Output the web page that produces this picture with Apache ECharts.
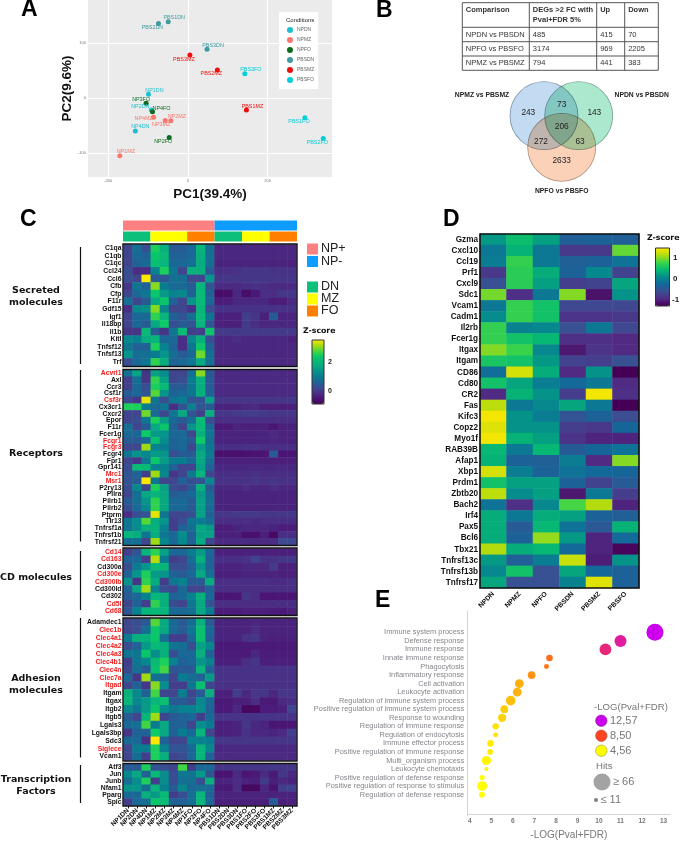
<!DOCTYPE html>
<html>
<head>
<meta charset="utf-8">
<title>Figure</title>
<style>
  html, body { margin: 0; padding: 0; background: #fff; }
  #chart { width: 680px; height: 841px; }
</style>
<script src="https://cdn.jsdelivr.net/npm/echarts@6/dist/echarts.min.js"></script>
</head>
<body>
<div id="chart"></div>
<script>
// panel A: PCA [PC1, PC2, sample]
const npdnPoints = [[-99, 6.6, 'NP1DN'], [-92, -21.7, 'NP2DN'], [-132, -60, 'NP4DN']];
const npmzPoints = [[-171, -105, 'NP1MZ'], [-43, -41.5, 'NP2MZ'], [-57, -41, 'NP3MZ'], [-86, -35, 'NP4MZ']];
const npfoPoints = [[-105, -9.6, 'NP3FO'], [-89, -25, 'NP4FO'], [-47, -72, 'NP2FO']];
const pbsdnPoints = [[-49.5, 138.6, 'PBS1DN'], [-74, 135.5, 'PBS2DN'], [48, 88.6, 'PBS3DN']];
const pbsmzPoints = [[5, 78, 'PBS3MZ'], [74, 51, 'PBS2MZ'], [147, -22, 'PBS1MZ']];
const pbsfoPoints = [[143, 44, 'PBS3FO'], [294, -36, 'PBS1FO'], [340, -73.5, 'PBS2FO']];
const conditions = ['NPDN', 'NPMZ', 'NPFO', 'PBSDN', 'PBSMZ', 'PBSFO'];

// panel B
const tableHeader = ['Comparison', 'DEGs >2 FC with\nPval+FDR 5%', 'Up', 'Down'];
const tableRows = [
  ['NPDN vs PBSDN', '485', '415', '70'],
  ['NPFO vs PBSFO', '3174', '969', '2205'],
  ['NPMZ vs PBSMZ', '794', '441', '383'],
];
const vennCounts = ['243', '73', '143', '206', '272', '63', '2633'];
const vennNames = ['NPMZ vs PBSMZ', 'NPDN vs PBSDN', 'NPFO vs PBSFO'];

// panel C
const samples = ['NP1DN', 'NP2DN', 'NP4DN', 'NP1MZ', 'NP2MZ', 'NP3MZ', 'NP4MZ', 'NP1FO', 'NP2FO', 'NP4FO',
  'PBS1DN', 'PBS2DN', 'PBS3DN', 'PBS1FO', 'PBS2FO', 'PBS3FO', 'PBS1MZ', 'PBS2MZ', 'PBS3MZ'];
const groupSpans = [10, 9];
const subsetSpans = [3, 4, 3, 3, 3, 3];
const redGenes = ['Acvrl1', 'Csf3r', 'Fcgr1', 'Fcgr3', 'Mrc1', 'Msr1', 'Cd14', 'Cd163', 'Cd300e', 'Cd300lb', 'Cd5l', 'Cd68',
  'Clec1b', 'Clec4a1', 'Clec4a2', 'Clec4a3', 'Clec4b1', 'Clec4n', 'Clec7a', 'Itgad', 'Siglece'];

const secretedGenes = ['C1qa', 'C1qb', 'C1qc', 'Ccl24', 'Ccl6', 'Cfb', 'Cfp', 'F11r', 'Gdf15', 'Igf1', 'Il18bp', 'Il1b', 'Kitl', 'Tnfsf12', 'Tnfsf13', 'Trf'];
const secretedZ = [
  [.2, .8, .3, 2.5, 1.9, .5, .5, .7, 2, .8, -.2, -.2, -.2, -.2, -.2, -.2, -.2, -.2, -.2],
  [.2, .7, .6, 2.3, 2.1, .6, .6, .7, 1.9, .8, -.2, -.2, -.2, -.2, -.2, -.2, -.2, -.2, -.2],
  [.2, .6, .7, 2.2, 2, .7, .7, .8, 1.8, .8, -.25, -.25, -.25, -.25, -.25, -.25, -.25, -.25, -.3],
  [.3, -.1, -.1, 1.1, 2.5, .9, .2, 1.9, 1.9, .5, -.1, -.1, -.05, 0, 0, 0, -.05, -.05, -.05],
  [.3, .2, 3.5, .5, .4, .8, .8, .2, .2, 1.4, 0, 0, 0, 0, 0, 0, 0, 0, 0],
  [0, .9, .6, 3, 1, .7, .7, .5, 2, .4, -.15, -.15, -.15, -.1, -.05, -.1, -.15, -.15, -.15],
  [.2, .7, .9, 2.3, 1.5, 1.1, 1.2, .6, 2.1, .6, -.6, -.6, -.2, -.6, -.4, -.1, -.1, 0, 0],
  [.8, .2, .5, 1.7, 2.3, .6, .2, 1.4, 2.1, .7, -.35, -.35, -.2, -.2, -.2, -.2, -.35, -.35, -.15],
  [-.1, 1.2, 1.3, 3, 1.2, .2, .2, -.05, 2, .3, -.05, -.05, -.05, -.05, -.05, -.05, -.05, -.05, -.05],
  [.2, .7, .7, 2.6, 2, .6, .4, .8, 2.1, .9, -.3, -.3, -.3, .1, 0, -.3, .5, -.25, -.25],
  [.2, .7, .5, 1.7, 2.4, .3, .5, .4, 2, .4, -.3, -.3, -.3, .05, -.1, -.2, -.2, -.2, -.2],
  [0, 0, 2.1, .5, 0, .9, 2.1, .1, .1, 2.3, .05, .05, .05, .05, .05, .05, .05, .05, .05],
  [1.2, 1.1, 1.8, 2, .7, .7, -.1, 1.2, 1.9, .3, -.2, -.2, -.1, -.2, -.2, -.2, -.2, -.2, -.25],
  [.9, .6, .6, 2.5, 1.1, .6, -.1, .9, 2.3, .6, -.2, -.2, -.2, -.2, -.2, -.2, -.2, -.2, -.2],
  [1.4, .8, .8, 1, 1.4, .8, .5, .7, 2.9, .8, -.2, -.2, -.2, -.2, -.2, -.2, -.2, -.2, -.2],
  [.3, .7, .9, 2.6, 1.8, .6, .7, .9, 1.7, .8, -.2, -.2, -.2, -.2, -.2, -.2, -.2, -.2, -.2],
];

const receptorGenes = ['Acvrl1', 'Axl', 'Ccr3', 'Csf1r', 'Csf3r', 'Cx3cr1', 'Cxcr2', 'Epor', 'F11r', 'Fcer1g', 'Fcgr1', 'Fcgr3', 'Fcgr4', 'Fpr1', 'Gpr141', 'Mrc1', 'Msr1', 'P2ry13', 'Pilra', 'Pilrb1', 'Pilrb2', 'Ptprm', 'Tlr13', 'Tnfrsf1a', 'Tnfrsf1b', 'Tnfrsf21'];
const receptorZ = [
  [.8, 1.6, 0, 1.6, 1.3, .2, .2, .8, 3, .5, -.15, -.15, -.15, -.15, -.15, -.15, -.15, -.15, -.15],
  [.1, .8, 0, 2.6, 1.6, .2, .3, 1, 1.9, .5, -.15, -.15, -.15, -.15, -.15, -.15, -.15, -.15, -.15],
  [.1, .7, .3, 2.5, 2.1, .5, .5, .9, 1.8, .5, -.15, -.15, -.15, -.15, -.15, -.15, -.15, -.15, -.15],
  [.5, .7, .4, 2.8, 1.4, .6, .7, .9, 1.9, .6, -.15, -.15, -.15, -.15, -.15, -.15, -.15, -.15, -.15],
  [.2, 0, 3.4, .9, .3, .9, 1, .4, .4, 1.6, 0, 0, 0, 0, 0, 0, 0, 0, 0],
  [2.5, 2.5, 1, .7, .9, -.1, .4, 1.1, .4, .5, -.25, -.25, -.25, -.2, -.15, -.3, -.3, -.3, -.3],
  [.2, .2, 2.9, .7, .2, .9, 1.7, .4, .1, 1.9, 0, 0, .05, .1, .1, .05, 0, 0, 0],
  [.2, .3, .9, 2.5, 1.5, .7, .5, .8, 2.1, .3, -.1, -.1, -.1, -.1, -.1, -.1, -.1, -.1, -.1],
  [.8, .2, .5, 1.7, 2.3, .6, .2, 1.4, 2.1, .7, -.4, -.4, -.25, -.3, -.3, -.3, -.45, -.3, -.3],
  [.7, .7, 2.4, 1.5, 1.4, .7, .7, .2, 1.9, .9, -.25, -.25, -.25, -.25, -.25, -.25, -.15, -.25, -.25],
  [.5, .5, .7, 2.2, 1.3, .6, .7, .5, 2.4, .8, -.25, -.25, -.25, -.25, -.25, -.25, -.2, -.25, -.25],
  [.2, .2, 3.1, 1.1, 1, .6, .7, .2, 1.5, .9, -.1, -.1, -.1, -.05, -.05, -.1, -.1, -.1, -.1],
  [.9, 1.4, 1.2, 1.5, 1.4, .3, .5, .5, 1.7, 1, -.55, -.55, -.55, -.55, -.5, -.45, .5, -.45, -.45],
  [.2, 0, .9, 2.3, 1.5, 1, 1, .7, 1.7, .8, -.3, -.3, -.3, -.3, -.3, -.3, -.3, -.3, -.3],
  [.3, 2.1, 2.1, 1.1, 1.1, .6, .2, .2, 1.6, .6, -.2, -.2, -.2, -.2, -.2, -.2, -.2, -.2, -.2],
  [.4, .6, .1, 3.1, 1.2, 0, .2, 1, 2, .2, -.1, -.1, -.1, -.1, -.05, -.1, -.1, -.1, -.1],
  [.4, .5, 3.5, .9, .2, .2, .6, .3, .4, 1.2, -.05, -.05, -.05, -.05, 0, -.05, 0, -.05, -.05],
  [.3, 1.2, .2, 2.5, 1.6, .3, .2, .5, 1.9, .5, -.2, -.2, -.2, -.1, -.2, -.2, -.1, -.2, -.2],
  [.2, .8, 1.7, 2, 1.7, .5, .6, .7, 1.5, .7, -.25, -.25, -.25, -.25, -.25, -.25, -.25, -.25, -.25],
  [.5, .8, 1.4, 2.6, 1.7, .7, .7, .5, 1.6, .8, -.25, -.25, -.25, -.25, -.25, -.25, -.25, -.25, -.25],
  [.3, .7, 1.2, 2.6, 1.7, .7, .7, .5, 1.6, .7, -.25, -.25, -.25, -.25, -.25, -.25, -.25, -.25, -.25],
  [-.1, .3, .4, 3.4, .9, .2, .2, .3, 1.6, .6, 0, 0, .05, .05, .05, 0, 0, 0, 0],
  [.9, 1.3, 2.8, 1.8, 1.4, .1, .3, .9, 1, .8, -.1, -.1, -.1, -.1, -.15, -.1, -.1, -.1, -.1],
  [.9, 1.3, 1.9, 1.9, 1.1, .1, .6, .8, 1.7, 1.5, -.35, -.35, -.25, -.2, -.2, -.2, -.25, -.35, -.35],
  [2, 1.8, .9, 1.8, .9, .7, 1.3, .6, 1.6, 1.6, -.3, -.3, -.3, -.55, -.55, -.3, -.65, -.1, -.1],
  [.8, .8, .2, 3.1, 1.2, .7, 1.2, .6, 1.8, .2, -.15, -.15, -.15, -.15, -.15, -.15, -.1, .25, .25],
];

const cdGenes = ['Cd14', 'Cd163', 'Cd300a', 'Cd300e', 'Cd300lb', 'Cd300ld', 'Cd302', 'Cd5l', 'Cd68'];
const cdZ = [
  [.1, .4, 2, 2.6, 1.6, .7, .7, 1, 1.5, .7, -.3, -.3, -.3, -.3, -.3, -.3, -.3, -.3, -.3],
  [.6, .7, .1, 3.2, 1, .1, .2, .8, 1.9, .6, -.1, -.1, -.1, -.05, .15, -.05, -.05, 0, 0],
  [.3, 1, 1.4, 2.1, 2, .3, .3, .6, 1.4, .6, -.25, -.25, -.25, -.2, -.2, -.2, .05, -.3, -.3],
  [.6, 1.4, 2.5, 1.5, 1.4, .6, .5, .7, 1.7, .8, -.3, -.3, -.3, -.25, -.25, -.25, -.25, -.3, -.3],
  [1.4, 0, 2.6, 1.8, .1, .9, 1.1, .5, .5, 1.8, -.1, -.1, -.1, -.1, -.1, -.1, -.15, -.15, -.1],
  [.6, 1.7, 3.1, 1.1, .3, .2, .7, .2, .2, .6, -.1, -.1, -.1, -.1, -.1, -.1, -.1, -.1, -.1],
  [.5, .7, 1.1, 2, 1.9, .6, .7, 1.1, 1.9, .7, -.45, -.45, -.45, 0, -.1, -.45, -.45, -.45, -.45],
  [.2, .6, .1, 2.6, 1.9, .3, .2, .9, 1.7, .4, -.1, -.1, -.1, -.1, -.1, -.1, -.1, -.1, -.1],
  [.4, 1.1, 2, 2.1, 2, .7, .7, .8, 1.7, 1, -.35, -.35, -.35, -.3, -.3, -.3, -.35, -.4, -.3],
];

const adhesionGenes = ['Adamdec1', 'Clec1b', 'Clec4a1', 'Clec4a2', 'Clec4a3', 'Clec4b1', 'Clec4n', 'Clec7a', 'Itgad', 'Itgam', 'Itgax', 'Itgb2', 'Itgb5', 'Lgals3', 'Lgals3bp', 'Sdc3', 'Siglece', 'Vcam1'];
const adhesionZ = [
  [.2, .3, .5, 2.8, 1.7, .7, .5, .8, 1.9, .5, -.25, -.25, -.25, -.25, -.2, -.25, -.25, -.25, -.25],
  [.2, .3, .8, 2.3, 1.7, .7, .5, .9, 2.2, .7, -.25, -.25, -.25, -.25, -.1, -.25, -.25, -.25, -.25],
  [1, 1.9, 1.9, 2.3, .8, .1, .1, .7, 2.2, .6, -.25, -.25, -.25, -.05, 0, -.25, -.3, -.3, -.3],
  [.3, .6, 1.5, 2.1, 1.9, .9, .8, .3, 1.6, 1.2, -.4, -.4, -.4, -.4, -.4, -.4, -.4, -.4, -.4],
  [.9, .9, 2.3, 1.3, 1.9, .3, .7, .7, 1.9, .6, -.35, -.35, -.35, -.4, -.2, -.35, -.35, -.35, -.35],
  [.1, .9, 1.2, 2.1, 2.5, 1.1, .6, .7, 1.4, 1.1, -.3, -.3, -.3, -.1, 0, -.3, -.3, -.3, -.3],
  [.2, .8, .5, 2.2, 2.7, .4, .5, .5, 2, .6, -.05, -.05, -.05, -.05, -.05, -.05, -.05, -.05, -.05],
  [.7, 0, 3.1, .8, .7, .2, 1, .8, .6, 1.5, -.05, -.05, -.05, -.05, -.05, -.05, -.05, -.05, -.05],
  [.2, .6, 0, 3, 1.3, .1, .1, .9, 2.2, .2, -.05, -.05, -.05, -.05, -.05, -.05, -.05, -.05, -.05],
  [1.9, 1.2, .6, 2.7, .2, .2, 1, .2, .5, 1.9, -.3, -.3, .1, -.2, 0, 0, -.2, 0, 0],
  [2, 1.2, 1.5, 2, 2.2, .5, .5, .3, 1.2, .7, -.4, -.4, -.3, -.3, -.1, -.4, -.4, -.15, -.1],
  [1.2, .9, 1.5, 2.3, 1.3, .9, 1.1, 1.1, 1.3, .6, -.4, -.4, -.2, -.7, -.7, -.35, -.35, -.3, .2],
  [.5, .2, 2, 3.1, .2, .5, .6, .7, .1, .7, -.02, -.02, -.02, -.02, -.02, -.02, -.02, -.02, -.02],
  [.7, .8, 2.7, 1, 1.7, .6, .6, .2, 1.3, 1, -.3, -.3, -.25, 0, -.2, -.25, -.45, -.45, -.45],
  [0, .6, .6, 2.4, 1.7, .6, 1, .7, 2, .2, -.3, -.3, -.25, -.05, -.2, -.2, -.25, -.15, .1],
  [.7, .7, -.05, 3.5, .6, .2, .2, 1.1, 1.1, 1, 0, 0, 0, 0, 0, 0, 0, 0, 0],
  [.2, 1, 1, 2.5, 1.1, .4, .4, .7, 2, 1.2, -.2, -.2, -.2, -.2, -.2, -.2, -.2, -.2, -.2],
  [.2, .8, .1, 2.5, 1.9, .2, .3, .7, 2, .6, -.15, -.15, -.15, -.15, -.15, -.15, -.15, -.15, -.15],
];

const tfGenes = ['Atf3', 'Jun', 'Junb', 'Nfam1', 'Pparg', 'Spic'];
const tfZ = [
  [.5, .5, 2.5, .4, .3, .2, 2.7, .1, .7, .7, 0, 0, 0, 0, 0, 0, .05, 0, 0],
  [1.2, 1.7, .6, 2.1, 1.3, .3, .9, .9, 1.5, .4, -.5, -.5, -.15, -.45, -.4, -.15, -.4, 0, -.2],
  [.8, 1.3, 2.5, .1, 1.3, .3, .8, .8, .3, 1.9, -.25, -.25, -.1, -.25, -.3, .05, -.3, -.2, -.25],
  [1.4, 1.4, .8, 2, 1.1, .5, 1.2, .7, .8, .7, -.4, -.4, -.1, -.7, -.7, -.2, -.5, .1, .15],
  [.7, .7, 1.9, 1.5, 2.1, .1, .3, .8, 2, .6, -.25, -.25, -.25, -.25, -.25, -.25, -.25, -.25, -.25],
  [.1, .7, .8, 2.3, 2.1, .6, .6, .8, 2, .7, -.3, -.3, -.3, -.3, -.3, -.3, .55, -.3, -.3],
];

// panel D
const dConditions = ['NPDN', 'NPMZ', 'NPFO', 'PBSDN', 'PBSMZ', 'PBSFO'];
const dGenes = ['Gzma', 'Cxcl10', 'Ccl19', 'Prf1', 'Cxcl9', 'Sdc1', 'Vcam1', 'Cadm1', 'Il2rb', 'Fcer1g', 'Itgax', 'Itgam', 'CD86', 'Cd80', 'CR2', 'Fas', 'Kifc3', 'Copz2', 'Myo1f', 'RAB39B', 'Afap1', 'Xbp1', 'Prdm1', 'Zbtb20', 'Bach2', 'Irf4', 'Pax5', 'Bcl6', 'Tbx21', 'Tnfrsf13c', 'Tnfrsf13b', 'Tnfrsf17'];
const dZ = [
  [.2, .5, .25, -.4, -.35, -.4],
  [-.1, .4, -.1, -.85, -.85, .95],
  [-.05, .75, -.1, -.4, -.35, -.15],
  [-.85, .7, .35, -.35, .05, -.75],
  [-.6, .7, .25, -.8, -.75, .3],
  [1, -.95, -.1, 1.05, -1.2, .15],
  [-.1, .75, .55, -.7, -.7, -.7],
  [.1, .75, .55, -.9, -.9, -.85],
  [.75, 0, .05, -.6, -.1, -.7],
  [.75, .55, .45, -.95, -.95, -1],
  [1.05, .8, .05, -1.15, -.9, -1],
  [.6, .55, .2, -.75, -.8, -.6],
  [-.2, 1.35, .35, -1, .15, -1.4],
  [.55, .3, -.05, -.25, -.1, -1],
  [-1, .4, .15, -.8, 1.5, -.95],
  [1.25, -.1, .05, .3, -.1, -1.4],
  [1.5, .15, -.05, -.55, -.35, -.65],
  [1.4, .15, .15, -.8, -.85, -.3],
  [1.5, .4, .25, -.9, -1.05, -1.05],
  [.45, -.1, .45, -.45, -.3, -.15],
  [.4, -.35, -.4, -.05, -1, 1.05],
  [1.35, -.05, -.35, -.15, -.25, -.3],
  [.55, .25, .25, -.35, -.75, -.45],
  [1.25, .1, .25, -1.15, -.1, -.8],
  [-.15, -.95, .05, .85, 1.2, -1.05],
  [.35, -.1, .35, .25, -.35, -.4],
  [.35, -.45, .45, -.15, -.5, .4],
  [.35, -.35, 1.1, .2, -1.05, -.25],
  [1.2, .35, .45, -.25, -1.05, -1.3],
  [.2, -.4, -.05, 1.3, -1.1, .15],
  [.05, .55, -.6, .3, -.25, -.35],
  [.3, -.6, -.6, 0, 1.4, -.35],
];

// panel E
const goTerms = ['Immune system process', 'Defense response', 'Immune response', 'Innate immune response', 'Phagocytosis', 'Inflammatory response', 'Cell activation', 'Leukocyte activation', 'Regulation of immune system process', 'Positive regulation of immune system process', 'Response to wounding', 'Regulation of immune response', 'Regulation of endocytosis', 'Immune effector process', 'Positive regulation of immune response', 'Multi_organism process', 'Leukocyte chemotaxis', 'Positive regulation of defense response', 'Positive regulation of response to stimulus', 'Regulation of defense response'];
const goLogP = [12.6, 11, 10.3, 7.7, 7.56, 6.87, 6.3, 6.2, 5.9, 5.6, 5.5, 5.2, 5.2, 4.96, 4.94, 4.77, 4.77, 4.57, 4.57, 4.56];
const goHits = [66, 45, 44, 22, 15, 27, 31, 31, 35, 27, 29, 21, 15, 22, 18, 33, 11, 16, 36, 19];

const sans = 'Liberation Sans';
const conditionColors = ['#1cbfd0', '#f8766d', '#0b6b1e', '#3f9aa0', '#f20d0d', '#00ced8'];
const zColorsC = ['#440154', '#4b1474', '#4a2d85', '#3d4a90', '#1f6296', '#0a7b90', '#078f8c', '#07a882', '#08b878', '#0ccb64', '#50d63c', '#a8dc10', '#fde800'];
const zColorsD = ['#450055', '#512c86', '#3a4f92', '#12689a', '#058c8c', '#06ba72', '#3dd548', '#b0dc10', '#fde800'];
// label offsets from each point in panel A, px
const labelNudge = {
  PBS1DN: [6, -4], PBS2DN: [-6, 4], PBS3DN: [6, -4], PBS3MZ: [-6, 4], PBS2MZ: [-6, 4], PBS3FO: [6, -4],
  NP1DN: [6, -4], NP3FO: [-5, -4], NP2DN: [-11, -3], NP4FO: [9, -3], NP4MZ: [-10, 1], NP3MZ: [-4, 4],
  NP2MZ: [6, -4], PBS1MZ: [6, -4], PBS1FO: [-6, 4], PBS2FO: [-6, 4], NP4DN: [5, -4], NP2FO: [-6, 4], NP1MZ: [6, -4],
};

const grids = [];
const xAxes = [];
const yAxes = [];
const series = [];
const graphics = [];

function addGrid(box, xAxis, yAxis) {
  const gridIndex = grids.length;
  grids.push(Object.assign({ containLabel: false }, box));
  xAxes.push(Object.assign({ gridIndex }, xAxis));
  yAxes.push(Object.assign({ gridIndex }, yAxis));
  return gridIndex;
}

function txt(x, y, text, size, opts) {
  graphics.push({
    type: 'text', x, y, z: 100,
    rotation: (opts && opts.rotation) || 0,
    style: {
      text, fontSize: size, fontFamily: (opts && opts.family) || sans,
      fontWeight: (opts && opts.weight) || 'normal',
      fill: (opts && opts.color) || '#111',
      align: (opts && opts.align) || 'left', verticalAlign: 'middle',
      lineHeight: (opts && opts.lineHeight) || undefined,
    },
  });
}

function box(x, y, w, h, fill, stroke, lineWidth) {
  graphics.push({
    type: 'rect', z: 90, shape: { x, y, width: w, height: h },
    style: { fill: fill || 'none', stroke: stroke || 'none', lineWidth: lineWidth || 0 },
  });
}

function vline(x, y1, y2, color, width) {
  graphics.push({
    type: 'line', z: 90, shape: { x1: x, y1, x2: x, y2 },
    style: { stroke: color || '#111', lineWidth: width || 1 },
  });
}

function hline(x1, x2, y, color, width) {
  graphics.push({
    type: 'line', z: 90, shape: { x1, y1: y, x2, y2: y },
    style: { stroke: color || '#111', lineWidth: width || 1 },
  });
}

// ---- A
const pcaGrid = addGrid(
  { left: 88, top: 0, width: 244, height: 177, show: true, backgroundColor: '#ebebeb', borderWidth: 0 },
  {
    type: 'value', min: -251, max: 362, name: 'PC1(39.4%)', nameLocation: 'middle', nameGap: 10,
    nameTextStyle: { fontFamily: sans, fontWeight: 'bold', fontSize: 13.5, color: '#111' },
    axisLine: { show: false },
    axisTick: { show: false, customValues: [-200, 0, 200] },
    axisLabel: { customValues: [-200, 0, 200], fontSize: 4, color: '#777', margin: 2, fontFamily: sans },
    splitLine: { show: true, lineStyle: { color: '#fff', width: 1 } },
  },
  {
    type: 'value', min: -143.6, max: 178, name: 'PC2(9.6%)', nameLocation: 'middle', nameGap: 13,
    nameTextStyle: { fontFamily: sans, fontWeight: 'bold', fontSize: 13.5, color: '#111' },
    axisLine: { show: false },
    axisTick: { show: false, customValues: [-100, 0, 100] },
    axisLabel: { customValues: [-100, 0, 100], fontSize: 4, color: '#777', margin: 2, fontFamily: sans },
    splitLine: { show: true, lineStyle: { color: '#fff', width: 1 } },
  }
);
[npdnPoints, npmzPoints, npfoPoints, pbsdnPoints, pbsmzPoints, pbsfoPoints].forEach((points, i) => {
  series.push({
    type: 'scatter', name: conditions[i], xAxisIndex: pcaGrid, yAxisIndex: pcaGrid, symbolSize: 5,
    itemStyle: { color: conditionColors[i], opacity: 1 },
    data: points.map(p => ({
      name: p[2], value: [p[0], p[1]],
      label: { show: true, position: 'inside', offset: labelNudge[p[2]], formatter: p[2], fontSize: 5.4, fontFamily: sans, color: conditionColors[i] },
    })),
  });
});
txt(286, 20, 'Conditions', 6, { color: '#222' });

// ---- C annotation strips
const stripGrid = addGrid(
  { left: 123, top: 220, width: 174, height: 22 },
  { type: 'value', min: 0, max: samples.length, show: false },
  { type: 'category', data: ['group', 'subset'], inverse: true, show: false }
);
const groupColors = ['#ff8080', '#0f9cff'];
const subsetColors = ['#0cc07a', '#ffff00', '#ff8000', '#0cc07a', '#ffff00', '#ff8000'];
groupSpans.forEach((span, i) => series.push({
  type: 'bar', xAxisIndex: stripGrid, yAxisIndex: stripGrid, stack: 'strip', barWidth: 10,
  itemStyle: { color: groupColors[i] }, data: [span, '-'],
}));
subsetSpans.forEach((span, i) => series.push({
  type: 'bar', xAxisIndex: stripGrid, yAxisIndex: stripGrid, stack: 'strip', barWidth: 10,
  itemStyle: { color: subsetColors[i] }, data: ['-', span],
}));

// ---- C heat blocks
const blocks = [
  { genes: secretedGenes, z: secretedZ, top: 244.5, bottom: 366 },
  { genes: receptorGenes, z: receptorZ, top: 370, bottom: 545 },
  { genes: cdGenes, z: cdZ, top: 548.5, bottom: 615 },
  { genes: adhesionGenes, z: adhesionZ, top: 618.5, bottom: 760.5 },
  { genes: tfGenes, z: tfZ, top: 764, bottom: 805.5 },
];
const heatC = [];
blocks.forEach((b, bi) => {
  const last = bi === blocks.length - 1;
  const g = addGrid(
    { left: 123.5, top: b.top, width: 173, height: b.bottom - b.top },
    {
      type: 'category', data: samples, show: last,
      axisLine: { show: false },
      axisTick: { show: last, length: 3, alignWithLabel: true, lineStyle: { color: '#111' } },
      axisLabel: { interval: 0, rotate: 45, fontSize: 6.6, fontWeight: 'bold', fontFamily: sans, color: '#111', margin: 4 },
      splitLine: { show: false },
    },
    {
      type: 'category', inverse: true,
      data: b.genes.map(g => redGenes.includes(g) ? { value: g, textStyle: { color: '#f21c1c' } } : g),
      axisLine: { show: false },
      axisTick: { length: 3, alignWithLabel: true, lineStyle: { color: '#111' } },
      axisLabel: { interval: 0, fontSize: 6.8, fontWeight: 'bold', fontFamily: sans, color: '#111', margin: 2 },
      splitLine: { show: false },
    }
  );
  heatC.push(series.length);
  const cells = [];
  b.z.forEach((row, r) => row.forEach((v, c) => cells.push([c, r, v])));
  series.push({ type: 'heatmap', xAxisIndex: g, yAxisIndex: g, data: cells, progressive: 0, emphasis: { disabled: true } });
  box(123, b.top - .5, 174, b.bottom - b.top + 1, null, '#111', 1.4);
});
[[247, 364], [370, 541.5], [551, 610], [618, 757.5], [765, 803]].forEach(s => vline(80.5, s[0], s[1], '#111', 1.2));
txt(36, 297, 'Secreted\nmolecules', 9.5, { family: 'DejaVu Sans', weight: 'bold', align: 'center', lineHeight: 12 });
txt(36, 454, 'Receptors', 9.5, { family: 'DejaVu Sans', weight: 'bold', align: 'center' });
txt(36, 578, 'CD molecules', 9.5, { family: 'DejaVu Sans', weight: 'bold', align: 'center' });
txt(36, 685, 'Adhesion\nmolecules', 9.5, { family: 'DejaVu Sans', weight: 'bold', align: 'center', lineHeight: 12 });
txt(36, 786, 'Transcription\nFactors', 9.5, { family: 'DejaVu Sans', weight: 'bold', align: 'center', lineHeight: 12 });

// legend swatches for panel C
[['NP+', 243.5, '#ff8080'], ['NP-', 256, '#0f9cff'], ['DN', 281.5, '#0cc07a'], ['MZ', 293.5, '#ffff00'], ['FO', 305.5, '#ff8000']].forEach(s => {
  box(307, s[1], 11, 11, s[2]);
  txt(321, s[1] + 5.5, s[0], 12.5, { color: '#222' });
});
txt(303, 331, 'Z-score', 7.8, { weight: 'bold', family: 'DejaVu Sans' });
box(312, 340, 12, 64, null, '#333', 1);
txt(328, 362, '2', 7, { weight: 'bold', color: '#222' });
txt(328, 391.5, '0', 7, { weight: 'bold', color: '#222' });

// ---- D
const dGrid = addGrid(
  { left: 480, top: 234, width: 159, height: 354 },
  {
    type: 'category', data: dConditions,
    axisLine: { show: false },
    axisTick: { length: 5, alignWithLabel: true, lineStyle: { color: '#111', width: 1.2 } },
    axisLabel: { interval: 0, rotate: 45, fontSize: 6.8, fontWeight: 'bold', fontFamily: sans, color: '#111', margin: 5 },
    splitLine: { show: false },
  },
  {
    type: 'category', inverse: true, data: dGenes,
    axisLine: { show: false },
    axisTick: { length: 4, alignWithLabel: true, lineStyle: { color: '#111', width: 1.2 } },
    axisLabel: { interval: 0, fontSize: 8.2, fontWeight: 'bold', fontFamily: sans, color: '#111', margin: 2 },
    splitLine: { show: false },
  }
);
const heatD = series.length;
const dCells = [];
dZ.forEach((row, r) => row.forEach((v, c) => dCells.push([c, r, v])));
series.push({ type: 'heatmap', xAxisIndex: dGrid, yAxisIndex: dGrid, data: dCells, progressive: 0, emphasis: { disabled: true } });
box(480, 234, 159, 354, null, '#111', 1.6);
txt(647, 238, 'Z-score', 7.8, { weight: 'bold', family: 'DejaVu Sans' });
box(655.5, 248, 14, 58, null, '#333', 1);
txt(673, 258, '1', 8, { weight: 'bold', color: '#222' });
txt(673, 279, '0', 8, { weight: 'bold', color: '#222' });
txt(672, 300, '-1', 8, { weight: 'bold', color: '#222' });

// ---- E
const bubbleGrid = addGrid(
  { left: 467.7, top: 611, width: 202.3, height: 209 },
  {
    type: 'value', min: 3.9, max: 13.3, name: '-LOG(Pval+FDR)', nameLocation: 'middle', nameGap: 16,
    offset: -2,
    nameTextStyle: { fontFamily: sans, fontSize: 10, color: '#777' },
    axisLine: { show: true, lineStyle: { color: '#d5d5d5' } },
    axisTick: { show: false, customValues: [4, 5, 6, 7, 8, 9, 10, 11, 12, 13] },
    axisLabel: { customValues: [4, 5, 6, 7, 8, 9, 10, 11, 12, 13], fontSize: 6.5, fontWeight: 'bold', color: '#777', fontFamily: sans, margin: 4 },
    splitLine: { show: false },
  },
  {
    type: 'category', inverse: true, data: [' ', '  '].concat(goTerms, ['   ', '    ']),
    axisLine: { show: true, lineStyle: { color: '#d5d5d5' } },
    axisTick: { show: false },
    axisLabel: { interval: 0, fontSize: 7.4, color: '#85858c', fontFamily: sans, margin: 3.5 },
    splitLine: { show: false },
  }
);
const bubbles = series.length;
const hitSize = h => 4 + (h - 11) * 13 / 55;
series.push({
  type: 'scatter', xAxisIndex: bubbleGrid, yAxisIndex: bubbleGrid,
  data: goTerms.map((t, i) => [goLogP[i], t, goHits[i]]),
  symbolSize: v => hitSize(v[2]),
  itemStyle: { opacity: 1 },
});
txt(594, 707, '-LOG(Pval+FDR)', 9.6, { color: '#777' });
[['12,57', 720.7, '#cc00ee', '#8a0aa0'], ['8,50', 735.7, '#ff4422', '#b83a20'], ['4,56', 750.7, '#ffff00', '#a09a10']].forEach(s => {
  graphics.push({ type: 'circle', z: 90, shape: { cx: 601.3, cy: s[1], r: 5.7 }, style: { fill: s[2], stroke: s[3], lineWidth: .6 } });
  txt(610, s[1], s[0], 11, { color: '#777' });
});
txt(596, 766.7, 'Hits', 9.6, { color: '#777' });
graphics.push({ type: 'circle', z: 90, shape: { cx: 602, cy: 782, r: 8.5 }, style: { fill: '#a3a3a3' } });
txt(613, 782, '≥ 66', 11, { color: '#777' });
graphics.push({ type: 'circle', z: 90, shape: { cx: 596, cy: 800, r: 2 }, style: { fill: '#808080' } });
txt(600.5, 800, '≤ 11', 11, { color: '#777' });

// ---- B table
const colEdges = [462.3, 529.3, 596.7, 624.7, 658.3];
const rowEdges = [2.7, 27.3, 41.7, 56, 70.3];
rowEdges.forEach(y => hline(colEdges[0], colEdges[4], y, '#555', 1));
colEdges.forEach(x => vline(x, rowEdges[0], rowEdges[4], '#555', 1));
tableHeader.forEach((h, i) => txt(colEdges[i] + 3.5, i === 1 ? 15 : 10, h, 7.5, { weight: 'bold', color: '#333', lineHeight: 10.5 }));
tableRows.forEach((row, r) => row.forEach((cell, c) => {
  txt(colEdges[c] + 3.5, (rowEdges[r + 1] + rowEdges[r + 2]) / 2, cell, 7.5, { color: '#333' });
}));

// ---- B venn
[[544, 115.7, '#c2dbf2', '#8a9aa8'], [578.7, 115.7, '#ace8cd', '#8aa89a'], [561.7, 147.3, '#fbd2b8', '#a89a8a']].forEach(c => {
  graphics.push({
    type: 'circle', z: 80, shape: { cx: c[0], cy: c[1], r: 34 },
    style: { fill: c[2], stroke: c[3], lineWidth: .8, blend: 'multiply' },
  });
});
[[528.3, 112.7], [561.7, 105], [594.3, 112.7], [561.7, 126.7], [541, 141.7], [580, 141.7], [561.7, 161]].forEach((p, i) => {
  txt(p[0], p[1], vennCounts[i], 8.3, { align: 'center', color: '#222' });
});
[[482, 95], [641.7, 95], [561.7, 191]].forEach((p, i) => {
  txt(p[0], p[1], vennNames[i], 6.8, { align: 'center', weight: 'bold', color: '#222' });
});

// ---- panel letters
[['A', 21, 10], ['B', 376, 10.5], ['C', 20, 220], ['D', 443, 220], ['E', 375, 601]].forEach(l => {
  txt(l[1], l[2], l[0], 23, { weight: 'bold', color: '#000' });
});

const chart = echarts.init(document.getElementById('chart'), null, { renderer: 'canvas' });
chart.setOption({
  animation: false,
  backgroundColor: '#fff',
  tooltip: { show: false },
  legend: {
    data: conditions, left: 279, top: 12, width: 42, height: 76, orient: 'vertical',
    padding: [15, 4, 6, 8], backgroundColor: '#fff', selectedMode: false,
    icon: 'circle', itemWidth: 6, itemHeight: 6, itemGap: 4,
    textStyle: { fontSize: 5, color: '#666', fontFamily: sans, padding: [0, 0, 0, -1] },
  },
  visualMap: [
    {
      type: 'continuous', seriesIndex: heatC, min: -.83, max: 3.5, dimension: 2,
      left: 312, top: 340, itemWidth: 12, itemHeight: 64, padding: 0, text: null,
      calculable: false, hoverLink: false, inRange: { color: zColorsC }, textStyle: { fontSize: 1, color: 'transparent' },
    },
    {
      type: 'continuous', seriesIndex: [heatD], min: -1.35, max: 1.55, dimension: 2,
      left: 655.5, top: 248, itemWidth: 14, itemHeight: 58, padding: 0, text: null,
      calculable: false, hoverLink: false, inRange: { color: zColorsD }, textStyle: { fontSize: 1, color: 'transparent' },
    },
    {
      type: 'continuous', seriesIndex: [bubbles], min: 4.56, max: 12.57, dimension: 0, show: false,
      inRange: { color: ['#ffff00', '#ff4422', '#cc00ee'] },
    },
  ],
  grid: grids,
  xAxis: xAxes,
  yAxis: yAxes,
  series,
  graphic: { elements: graphics },
});
</script>
</body>
</html>
